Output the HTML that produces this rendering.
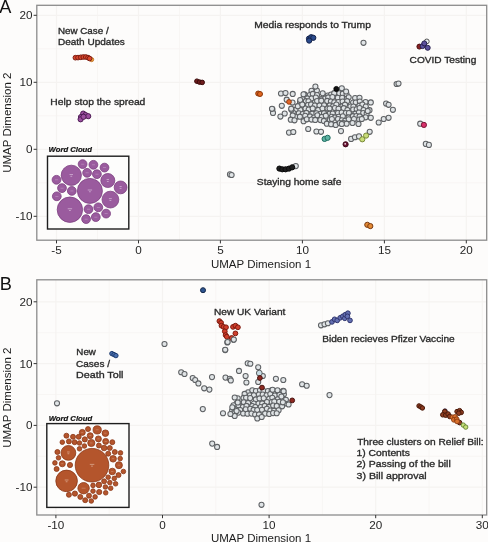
<!DOCTYPE html>
<html><head><meta charset="utf-8"><style>
html,body{margin:0;padding:0;background:#fdfcfb;}
body{width:488px;height:542px;overflow:hidden;}
svg{display:block;filter:blur(0.35px);}
text{font-family:"Liberation Sans", sans-serif;}
.tk{font-size:11.7px;fill:#262626;}
.ttl{font-size:11.5px;fill:#1c1c1c;}
.ann{font-size:9.0px;fill:#2b2b2b;stroke:#2b2b2b;stroke-width:0.32px;}
.wc{font-size:7.7px;font-weight:bold;font-style:italic;fill:#111;stroke:#111;stroke-width:0.2px;}
.pl{font-size:18.2px;fill:#111;}
</style></head><body>
<svg width="488" height="542" viewBox="0 0 488 542">
<rect width="488" height="542" fill="#fdfcfb"/>
<rect x="36.8" y="5.3" width="449.9" height="234.89999999999998" fill="#fdfcfb"/>
<line x1="97.5" y1="5.3" x2="97.5" y2="240.2" stroke="#f8f6f4" stroke-width="1.0"/>
<line x1="179.5" y1="5.3" x2="179.5" y2="240.2" stroke="#f8f6f4" stroke-width="1.0"/>
<line x1="261.4" y1="5.3" x2="261.4" y2="240.2" stroke="#f8f6f4" stroke-width="1.0"/>
<line x1="343.4" y1="5.3" x2="343.4" y2="240.2" stroke="#f8f6f4" stroke-width="1.0"/>
<line x1="425.3" y1="5.3" x2="425.3" y2="240.2" stroke="#f8f6f4" stroke-width="1.0"/>
<line x1="36.8" y1="182.8" x2="486.7" y2="182.8" stroke="#f8f6f4" stroke-width="1.0"/>
<line x1="36.8" y1="115.8" x2="486.7" y2="115.8" stroke="#f8f6f4" stroke-width="1.0"/>
<line x1="36.8" y1="48.8" x2="486.7" y2="48.8" stroke="#f8f6f4" stroke-width="1.0"/>
<line x1="56.5" y1="5.3" x2="56.5" y2="240.2" stroke="#f5f3f1" stroke-width="1.2"/>
<line x1="138.5" y1="5.3" x2="138.5" y2="240.2" stroke="#f5f3f1" stroke-width="1.2"/>
<line x1="220.4" y1="5.3" x2="220.4" y2="240.2" stroke="#f5f3f1" stroke-width="1.2"/>
<line x1="302.4" y1="5.3" x2="302.4" y2="240.2" stroke="#f5f3f1" stroke-width="1.2"/>
<line x1="384.4" y1="5.3" x2="384.4" y2="240.2" stroke="#f5f3f1" stroke-width="1.2"/>
<line x1="466.3" y1="5.3" x2="466.3" y2="240.2" stroke="#f5f3f1" stroke-width="1.2"/>
<line x1="36.8" y1="216.3" x2="486.7" y2="216.3" stroke="#f5f3f1" stroke-width="1.2"/>
<line x1="36.8" y1="149.3" x2="486.7" y2="149.3" stroke="#f5f3f1" stroke-width="1.2"/>
<line x1="36.8" y1="82.3" x2="486.7" y2="82.3" stroke="#f5f3f1" stroke-width="1.2"/>
<line x1="36.8" y1="15.3" x2="486.7" y2="15.3" stroke="#f5f3f1" stroke-width="1.2"/>
<rect x="36.8" y="279.8" width="449.9" height="235.2" fill="#fdfcfb"/>
<line x1="109.2" y1="279.8" x2="109.2" y2="515.0" stroke="#f8f6f4" stroke-width="1.0"/>
<line x1="215.8" y1="279.8" x2="215.8" y2="515.0" stroke="#f8f6f4" stroke-width="1.0"/>
<line x1="322.4" y1="279.8" x2="322.4" y2="515.0" stroke="#f8f6f4" stroke-width="1.0"/>
<line x1="429.0" y1="279.8" x2="429.0" y2="515.0" stroke="#f8f6f4" stroke-width="1.0"/>
<line x1="36.8" y1="456.3" x2="486.7" y2="456.3" stroke="#f8f6f4" stroke-width="1.0"/>
<line x1="36.8" y1="394.5" x2="486.7" y2="394.5" stroke="#f8f6f4" stroke-width="1.0"/>
<line x1="36.8" y1="332.7" x2="486.7" y2="332.7" stroke="#f8f6f4" stroke-width="1.0"/>
<line x1="55.9" y1="279.8" x2="55.9" y2="515.0" stroke="#f5f3f1" stroke-width="1.2"/>
<line x1="162.5" y1="279.8" x2="162.5" y2="515.0" stroke="#f5f3f1" stroke-width="1.2"/>
<line x1="269.1" y1="279.8" x2="269.1" y2="515.0" stroke="#f5f3f1" stroke-width="1.2"/>
<line x1="375.7" y1="279.8" x2="375.7" y2="515.0" stroke="#f5f3f1" stroke-width="1.2"/>
<line x1="482.3" y1="279.8" x2="482.3" y2="515.0" stroke="#f5f3f1" stroke-width="1.2"/>
<line x1="36.8" y1="487.2" x2="486.7" y2="487.2" stroke="#f5f3f1" stroke-width="1.2"/>
<line x1="36.8" y1="425.4" x2="486.7" y2="425.4" stroke="#f5f3f1" stroke-width="1.2"/>
<line x1="36.8" y1="363.6" x2="486.7" y2="363.6" stroke="#f5f3f1" stroke-width="1.2"/>
<line x1="36.8" y1="301.8" x2="486.7" y2="301.8" stroke="#f5f3f1" stroke-width="1.2"/>
<text x="-0.8" y="13.2" class="pl">A</text>
<text x="-0.3" y="290.3" class="pl">B</text>
<text x="261" y="267.6" text-anchor="middle" class="ttl">UMAP Dimension 1</text>
<text x="261" y="541.6" text-anchor="middle" class="ttl">UMAP Dimension 1</text>
<text transform="translate(11.2,122.7) rotate(-90)" text-anchor="middle" class="ttl">UMAP Dimension 2</text>
<text transform="translate(11.2,397.7) rotate(-90)" text-anchor="middle" class="ttl">UMAP Dimension 2</text>
<text x="57.92" y="34.00" class="ann" textLength="50.72" lengthAdjust="spacingAndGlyphs">New Case /</text>
<text x="57.92" y="45.05" class="ann" textLength="66.90" lengthAdjust="spacingAndGlyphs">Death Updates</text>
<text x="50.38" y="104.90" class="ann" textLength="94.98" lengthAdjust="spacingAndGlyphs">Help stop the spread</text>
<text x="254.20" y="27.70" class="ann" textLength="116.70" lengthAdjust="spacingAndGlyphs">Media responds to Trump</text>
<text x="409.64" y="62.80" class="ann" textLength="66.72" lengthAdjust="spacingAndGlyphs">COVID Testing</text>
<text x="256.84" y="184.80" class="ann" textLength="84.52" lengthAdjust="spacingAndGlyphs">Staying home safe</text>
<text x="48.6" y="152.4" class="wc">Word Cloud</text>
<rect x="47.5" y="156.2" width="81.30000000000001" height="72.80000000000001" fill="#fdfdfc" stroke="#1e1e1e" stroke-width="1.4"/>
<circle cx="71.3" cy="175.3" r="10.1" fill="#9a5b9e" stroke="#7c3f80" stroke-width="0.8"/>
<rect x="69.5" y="174.0" width="3.5" height="0.8" fill="#e2cbe4" opacity="0.75"/>
<rect x="70.4" y="175.8" width="1.8" height="0.8" fill="#e2cbe4" opacity="0.75"/>
<circle cx="89.9" cy="190.9" r="12.5" fill="#9a5b9e" stroke="#7c3f80" stroke-width="0.8"/>
<rect x="87.7" y="189.6" width="4.4" height="0.8" fill="#e2cbe4" opacity="0.75"/>
<rect x="89.0" y="191.4" width="1.8" height="0.8" fill="#e2cbe4" opacity="0.75"/>
<circle cx="69.9" cy="209.7" r="12.7" fill="#9a5b9e" stroke="#7c3f80" stroke-width="0.8"/>
<rect x="67.7" y="208.4" width="4.4" height="0.8" fill="#e2cbe4" opacity="0.75"/>
<rect x="69.0" y="210.2" width="1.8" height="0.8" fill="#e2cbe4" opacity="0.75"/>
<circle cx="110.4" cy="199.6" r="8.4" fill="#9a5b9e" stroke="#7c3f80" stroke-width="0.8"/>
<rect x="108.9" y="198.3" width="2.9" height="0.8" fill="#e2cbe4" opacity="0.75"/>
<rect x="109.5" y="200.1" width="1.8" height="0.8" fill="#e2cbe4" opacity="0.75"/>
<circle cx="107.8" cy="180.5" r="7.0" fill="#9a5b9e" stroke="#7c3f80" stroke-width="0.8"/>
<rect x="106.6" y="179.2" width="2.4" height="0.8" fill="#e2cbe4" opacity="0.75"/>
<rect x="106.9" y="181.0" width="1.8" height="0.8" fill="#e2cbe4" opacity="0.75"/>
<circle cx="120.6" cy="187.4" r="6.4" fill="#9a5b9e" stroke="#7c3f80" stroke-width="0.8"/>
<rect x="119.5" y="186.1" width="2.2" height="0.8" fill="#e2cbe4" opacity="0.75"/>
<rect x="119.7" y="187.9" width="1.8" height="0.8" fill="#e2cbe4" opacity="0.75"/>
<circle cx="82.6" cy="164.1" r="4.4" fill="#9a5b9e" stroke="#7c3f80" stroke-width="0.8"/>
<rect x="81.1" y="163.8" width="3.1" height="0.7" fill="#e2cbe4" opacity="0.45"/>
<circle cx="93.4" cy="164.8" r="4.4" fill="#9a5b9e" stroke="#7c3f80" stroke-width="0.8"/>
<rect x="91.9" y="164.5" width="3.1" height="0.7" fill="#e2cbe4" opacity="0.45"/>
<circle cx="104.5" cy="167.6" r="4.4" fill="#9a5b9e" stroke="#7c3f80" stroke-width="0.8"/>
<rect x="103.0" y="167.2" width="3.1" height="0.7" fill="#e2cbe4" opacity="0.45"/>
<circle cx="87.1" cy="172.8" r="4.4" fill="#9a5b9e" stroke="#7c3f80" stroke-width="0.8"/>
<rect x="85.6" y="172.5" width="3.1" height="0.7" fill="#e2cbe4" opacity="0.45"/>
<circle cx="96.9" cy="174.2" r="4.4" fill="#9a5b9e" stroke="#7c3f80" stroke-width="0.8"/>
<rect x="95.4" y="173.8" width="3.1" height="0.7" fill="#e2cbe4" opacity="0.45"/>
<circle cx="56.5" cy="179.8" r="4.4" fill="#9a5b9e" stroke="#7c3f80" stroke-width="0.8"/>
<rect x="55.0" y="179.5" width="3.1" height="0.7" fill="#e2cbe4" opacity="0.45"/>
<circle cx="62.0" cy="188.1" r="4.4" fill="#9a5b9e" stroke="#7c3f80" stroke-width="0.8"/>
<rect x="60.5" y="187.8" width="3.1" height="0.7" fill="#e2cbe4" opacity="0.45"/>
<circle cx="71.8" cy="190.9" r="4.4" fill="#9a5b9e" stroke="#7c3f80" stroke-width="0.8"/>
<rect x="70.3" y="190.6" width="3.1" height="0.7" fill="#e2cbe4" opacity="0.45"/>
<circle cx="56.8" cy="196.3" r="4.4" fill="#9a5b9e" stroke="#7c3f80" stroke-width="0.8"/>
<rect x="55.3" y="196.0" width="3.1" height="0.7" fill="#e2cbe4" opacity="0.45"/>
<circle cx="88.5" cy="209.2" r="4.4" fill="#9a5b9e" stroke="#7c3f80" stroke-width="0.8"/>
<rect x="87.0" y="208.8" width="3.1" height="0.7" fill="#e2cbe4" opacity="0.45"/>
<circle cx="98.3" cy="207.3" r="4.4" fill="#9a5b9e" stroke="#7c3f80" stroke-width="0.8"/>
<rect x="96.8" y="207.0" width="3.1" height="0.7" fill="#e2cbe4" opacity="0.45"/>
<circle cx="106.1" cy="213.6" r="4.4" fill="#9a5b9e" stroke="#7c3f80" stroke-width="0.8"/>
<rect x="104.6" y="213.2" width="3.1" height="0.7" fill="#e2cbe4" opacity="0.45"/>
<circle cx="95.8" cy="217.1" r="4.4" fill="#9a5b9e" stroke="#7c3f80" stroke-width="0.8"/>
<rect x="94.3" y="216.8" width="3.1" height="0.7" fill="#e2cbe4" opacity="0.45"/>
<circle cx="86.1" cy="219.1" r="4.4" fill="#9a5b9e" stroke="#7c3f80" stroke-width="0.8"/>
<rect x="84.6" y="218.8" width="3.1" height="0.7" fill="#e2cbe4" opacity="0.45"/>
<circle cx="91.6" cy="59.6" r="2.1" fill="#f0a83c" stroke="#b8661e" stroke-width="0.8"/>
<circle cx="75.4" cy="57.7" r="2.35" fill="#d8452c" stroke="#7d1d12" stroke-width="1.0"/>
<circle cx="78.0" cy="57.6" r="2.35" fill="#d8452c" stroke="#7d1d12" stroke-width="1.0"/>
<circle cx="80.8" cy="57.3" r="2.35" fill="#d8452c" stroke="#7d1d12" stroke-width="1.0"/>
<circle cx="83.3" cy="57.0" r="2.35" fill="#d8452c" stroke="#7d1d12" stroke-width="1.0"/>
<circle cx="85.8" cy="57.0" r="2.35" fill="#d8452c" stroke="#7d1d12" stroke-width="1.0"/>
<circle cx="88.0" cy="57.6" r="2.35" fill="#d8452c" stroke="#7d1d12" stroke-width="1.0"/>
<circle cx="89.6" cy="58.5" r="2.35" fill="#d8452c" stroke="#7d1d12" stroke-width="1.0"/>
<circle cx="196.9" cy="81.2" r="2.3" fill="#6e1c1c" stroke="#3a0a0a" stroke-width="1.0"/>
<circle cx="199.5" cy="82.1" r="2.3" fill="#6e1c1c" stroke="#3a0a0a" stroke-width="1.0"/>
<circle cx="202.2" cy="82.4" r="2.3" fill="#6e1c1c" stroke="#3a0a0a" stroke-width="1.0"/>
<circle cx="83.2" cy="113.6" r="2.6" fill="#9b4f9f" stroke="#4e1d55" stroke-width="1.0"/>
<circle cx="85.5" cy="115.0" r="2.6" fill="#9b4f9f" stroke="#4e1d55" stroke-width="1.0"/>
<circle cx="88.2" cy="116.2" r="2.6" fill="#9b4f9f" stroke="#4e1d55" stroke-width="1.0"/>
<circle cx="81.0" cy="117.0" r="2.6" fill="#9b4f9f" stroke="#4e1d55" stroke-width="1.0"/>
<circle cx="80.6" cy="119.3" r="2.6" fill="#9b4f9f" stroke="#4e1d55" stroke-width="1.0"/>
<circle cx="83.5" cy="116.8" r="2.6" fill="#9b4f9f" stroke="#4e1d55" stroke-width="1.0"/>
<circle cx="309.0" cy="38.6" r="2.6" fill="#2a4a8c" stroke="#14234a" stroke-width="1.0"/>
<circle cx="311.2" cy="37.2" r="2.6" fill="#2a4a8c" stroke="#14234a" stroke-width="1.0"/>
<circle cx="313.3" cy="37.8" r="2.6" fill="#2a4a8c" stroke="#14234a" stroke-width="1.0"/>
<circle cx="309.2" cy="40.6" r="2.6" fill="#2a4a8c" stroke="#14234a" stroke-width="1.0"/>
<circle cx="426.8" cy="41.4" r="2.4" fill="#e8ecef" stroke="#555" stroke-width="1.0"/>
<circle cx="419.4" cy="46.6" r="2.5" fill="#8a2020" stroke="#4a0e0e" stroke-width="1.0"/>
<circle cx="422.6" cy="46.1" r="2.5" fill="#5b4f9c" stroke="#262050" stroke-width="1.0"/>
<circle cx="424.3" cy="43.4" r="2.5" fill="#5b4f9c" stroke="#262050" stroke-width="1.0"/>
<circle cx="427.7" cy="47.8" r="2.5" fill="#5b4f9c" stroke="#262050" stroke-width="1.0"/>
<circle cx="311.5" cy="90.8" r="2.55" fill="#e0e4e6" stroke="#5e6164" stroke-width="1.05"/>
<circle cx="316.9" cy="90.6" r="2.55" fill="#e0e4e6" stroke="#5e6164" stroke-width="1.05"/>
<circle cx="341.4" cy="90.9" r="2.55" fill="#e0e4e6" stroke="#5e6164" stroke-width="1.05"/>
<circle cx="304.5" cy="94.4" r="2.55" fill="#e0e4e6" stroke="#5e6164" stroke-width="1.05"/>
<circle cx="309.8" cy="95.1" r="2.55" fill="#e0e4e6" stroke="#5e6164" stroke-width="1.05"/>
<circle cx="312.8" cy="93.9" r="2.55" fill="#e0e4e6" stroke="#5e6164" stroke-width="1.05"/>
<circle cx="317.0" cy="95.1" r="2.55" fill="#e0e4e6" stroke="#5e6164" stroke-width="1.05"/>
<circle cx="322.7" cy="93.3" r="2.55" fill="#e0e4e6" stroke="#5e6164" stroke-width="1.05"/>
<circle cx="327.7" cy="95.5" r="2.55" fill="#e0e4e6" stroke="#5e6164" stroke-width="1.05"/>
<circle cx="331.1" cy="94.6" r="2.55" fill="#e0e4e6" stroke="#5e6164" stroke-width="1.05"/>
<circle cx="334.2" cy="93.2" r="2.55" fill="#e0e4e6" stroke="#5e6164" stroke-width="1.05"/>
<circle cx="339.3" cy="93.3" r="2.55" fill="#e0e4e6" stroke="#5e6164" stroke-width="1.05"/>
<circle cx="342.8" cy="93.7" r="2.55" fill="#e0e4e6" stroke="#5e6164" stroke-width="1.05"/>
<circle cx="346.6" cy="94.3" r="2.55" fill="#e0e4e6" stroke="#5e6164" stroke-width="1.05"/>
<circle cx="303.0" cy="98.9" r="2.55" fill="#e0e4e6" stroke="#5e6164" stroke-width="1.05"/>
<circle cx="307.4" cy="98.4" r="2.55" fill="#e0e4e6" stroke="#5e6164" stroke-width="1.05"/>
<circle cx="311.6" cy="98.4" r="2.55" fill="#e0e4e6" stroke="#5e6164" stroke-width="1.05"/>
<circle cx="315.8" cy="97.5" r="2.55" fill="#e0e4e6" stroke="#5e6164" stroke-width="1.05"/>
<circle cx="321.3" cy="99.2" r="2.55" fill="#e0e4e6" stroke="#5e6164" stroke-width="1.05"/>
<circle cx="325.2" cy="98.5" r="2.55" fill="#e0e4e6" stroke="#5e6164" stroke-width="1.05"/>
<circle cx="328.2" cy="97.4" r="2.55" fill="#e0e4e6" stroke="#5e6164" stroke-width="1.05"/>
<circle cx="332.4" cy="97.0" r="2.55" fill="#e0e4e6" stroke="#5e6164" stroke-width="1.05"/>
<circle cx="337.8" cy="97.8" r="2.55" fill="#e0e4e6" stroke="#5e6164" stroke-width="1.05"/>
<circle cx="342.2" cy="97.8" r="2.55" fill="#e0e4e6" stroke="#5e6164" stroke-width="1.05"/>
<circle cx="346.7" cy="98.9" r="2.55" fill="#e0e4e6" stroke="#5e6164" stroke-width="1.05"/>
<circle cx="348.7" cy="97.3" r="2.55" fill="#e0e4e6" stroke="#5e6164" stroke-width="1.05"/>
<circle cx="355.1" cy="98.0" r="2.55" fill="#e0e4e6" stroke="#5e6164" stroke-width="1.05"/>
<circle cx="359.5" cy="97.8" r="2.55" fill="#e0e4e6" stroke="#5e6164" stroke-width="1.05"/>
<circle cx="300.0" cy="102.0" r="2.55" fill="#e0e4e6" stroke="#5e6164" stroke-width="1.05"/>
<circle cx="305.9" cy="101.2" r="2.55" fill="#e0e4e6" stroke="#5e6164" stroke-width="1.05"/>
<circle cx="308.5" cy="101.3" r="2.55" fill="#e0e4e6" stroke="#5e6164" stroke-width="1.05"/>
<circle cx="314.9" cy="102.3" r="2.55" fill="#e0e4e6" stroke="#5e6164" stroke-width="1.05"/>
<circle cx="317.1" cy="101.1" r="2.55" fill="#e0e4e6" stroke="#5e6164" stroke-width="1.05"/>
<circle cx="321.3" cy="100.7" r="2.55" fill="#e0e4e6" stroke="#5e6164" stroke-width="1.05"/>
<circle cx="327.2" cy="100.9" r="2.55" fill="#e0e4e6" stroke="#5e6164" stroke-width="1.05"/>
<circle cx="330.9" cy="101.6" r="2.55" fill="#e0e4e6" stroke="#5e6164" stroke-width="1.05"/>
<circle cx="334.3" cy="102.3" r="2.55" fill="#e0e4e6" stroke="#5e6164" stroke-width="1.05"/>
<circle cx="338.4" cy="102.1" r="2.55" fill="#e0e4e6" stroke="#5e6164" stroke-width="1.05"/>
<circle cx="342.6" cy="101.5" r="2.55" fill="#e0e4e6" stroke="#5e6164" stroke-width="1.05"/>
<circle cx="347.1" cy="101.2" r="2.55" fill="#e0e4e6" stroke="#5e6164" stroke-width="1.05"/>
<circle cx="353.1" cy="102.5" r="2.55" fill="#e0e4e6" stroke="#5e6164" stroke-width="1.05"/>
<circle cx="355.8" cy="102.6" r="2.55" fill="#e0e4e6" stroke="#5e6164" stroke-width="1.05"/>
<circle cx="359.8" cy="101.5" r="2.55" fill="#e0e4e6" stroke="#5e6164" stroke-width="1.05"/>
<circle cx="365.6" cy="102.1" r="2.55" fill="#e0e4e6" stroke="#5e6164" stroke-width="1.05"/>
<circle cx="297.9" cy="106.6" r="2.55" fill="#e0e4e6" stroke="#5e6164" stroke-width="1.05"/>
<circle cx="302.4" cy="104.8" r="2.55" fill="#e0e4e6" stroke="#5e6164" stroke-width="1.05"/>
<circle cx="308.0" cy="105.0" r="2.55" fill="#e0e4e6" stroke="#5e6164" stroke-width="1.05"/>
<circle cx="311.1" cy="104.4" r="2.55" fill="#e0e4e6" stroke="#5e6164" stroke-width="1.05"/>
<circle cx="314.9" cy="105.6" r="2.55" fill="#e0e4e6" stroke="#5e6164" stroke-width="1.05"/>
<circle cx="319.5" cy="105.6" r="2.55" fill="#e0e4e6" stroke="#5e6164" stroke-width="1.05"/>
<circle cx="324.1" cy="105.3" r="2.55" fill="#e0e4e6" stroke="#5e6164" stroke-width="1.05"/>
<circle cx="329.7" cy="105.4" r="2.55" fill="#e0e4e6" stroke="#5e6164" stroke-width="1.05"/>
<circle cx="333.1" cy="106.3" r="2.55" fill="#e0e4e6" stroke="#5e6164" stroke-width="1.05"/>
<circle cx="336.4" cy="104.6" r="2.55" fill="#e0e4e6" stroke="#5e6164" stroke-width="1.05"/>
<circle cx="342.4" cy="106.2" r="2.55" fill="#e0e4e6" stroke="#5e6164" stroke-width="1.05"/>
<circle cx="345.0" cy="104.7" r="2.55" fill="#e0e4e6" stroke="#5e6164" stroke-width="1.05"/>
<circle cx="350.4" cy="106.5" r="2.55" fill="#e0e4e6" stroke="#5e6164" stroke-width="1.05"/>
<circle cx="353.4" cy="106.5" r="2.55" fill="#e0e4e6" stroke="#5e6164" stroke-width="1.05"/>
<circle cx="359.3" cy="105.7" r="2.55" fill="#e0e4e6" stroke="#5e6164" stroke-width="1.05"/>
<circle cx="362.4" cy="104.5" r="2.55" fill="#e0e4e6" stroke="#5e6164" stroke-width="1.05"/>
<circle cx="365.8" cy="106.5" r="2.55" fill="#e0e4e6" stroke="#5e6164" stroke-width="1.05"/>
<circle cx="296.1" cy="109.6" r="2.55" fill="#e0e4e6" stroke="#5e6164" stroke-width="1.05"/>
<circle cx="300.4" cy="109.9" r="2.55" fill="#e0e4e6" stroke="#5e6164" stroke-width="1.05"/>
<circle cx="305.5" cy="108.6" r="2.55" fill="#e0e4e6" stroke="#5e6164" stroke-width="1.05"/>
<circle cx="308.7" cy="109.6" r="2.55" fill="#e0e4e6" stroke="#5e6164" stroke-width="1.05"/>
<circle cx="312.7" cy="108.4" r="2.55" fill="#e0e4e6" stroke="#5e6164" stroke-width="1.05"/>
<circle cx="318.1" cy="109.9" r="2.55" fill="#e0e4e6" stroke="#5e6164" stroke-width="1.05"/>
<circle cx="322.5" cy="108.6" r="2.55" fill="#e0e4e6" stroke="#5e6164" stroke-width="1.05"/>
<circle cx="327.5" cy="108.4" r="2.55" fill="#e0e4e6" stroke="#5e6164" stroke-width="1.05"/>
<circle cx="329.6" cy="108.5" r="2.55" fill="#e0e4e6" stroke="#5e6164" stroke-width="1.05"/>
<circle cx="334.9" cy="108.0" r="2.55" fill="#e0e4e6" stroke="#5e6164" stroke-width="1.05"/>
<circle cx="338.5" cy="108.8" r="2.55" fill="#e0e4e6" stroke="#5e6164" stroke-width="1.05"/>
<circle cx="343.7" cy="108.2" r="2.55" fill="#e0e4e6" stroke="#5e6164" stroke-width="1.05"/>
<circle cx="347.4" cy="110.0" r="2.55" fill="#e0e4e6" stroke="#5e6164" stroke-width="1.05"/>
<circle cx="353.2" cy="109.5" r="2.55" fill="#e0e4e6" stroke="#5e6164" stroke-width="1.05"/>
<circle cx="356.7" cy="109.3" r="2.55" fill="#e0e4e6" stroke="#5e6164" stroke-width="1.05"/>
<circle cx="359.6" cy="108.0" r="2.55" fill="#e0e4e6" stroke="#5e6164" stroke-width="1.05"/>
<circle cx="363.6" cy="110.1" r="2.55" fill="#e0e4e6" stroke="#5e6164" stroke-width="1.05"/>
<circle cx="369.5" cy="110.2" r="2.55" fill="#e0e4e6" stroke="#5e6164" stroke-width="1.05"/>
<circle cx="293.5" cy="113.1" r="2.55" fill="#e0e4e6" stroke="#5e6164" stroke-width="1.05"/>
<circle cx="298.8" cy="113.3" r="2.55" fill="#e0e4e6" stroke="#5e6164" stroke-width="1.05"/>
<circle cx="302.7" cy="114.0" r="2.55" fill="#e0e4e6" stroke="#5e6164" stroke-width="1.05"/>
<circle cx="306.4" cy="112.9" r="2.55" fill="#e0e4e6" stroke="#5e6164" stroke-width="1.05"/>
<circle cx="312.2" cy="113.7" r="2.55" fill="#e0e4e6" stroke="#5e6164" stroke-width="1.05"/>
<circle cx="316.4" cy="113.3" r="2.55" fill="#e0e4e6" stroke="#5e6164" stroke-width="1.05"/>
<circle cx="320.8" cy="113.8" r="2.55" fill="#e0e4e6" stroke="#5e6164" stroke-width="1.05"/>
<circle cx="324.0" cy="113.2" r="2.55" fill="#e0e4e6" stroke="#5e6164" stroke-width="1.05"/>
<circle cx="329.6" cy="113.7" r="2.55" fill="#e0e4e6" stroke="#5e6164" stroke-width="1.05"/>
<circle cx="332.7" cy="113.5" r="2.55" fill="#e0e4e6" stroke="#5e6164" stroke-width="1.05"/>
<circle cx="338.0" cy="112.9" r="2.55" fill="#e0e4e6" stroke="#5e6164" stroke-width="1.05"/>
<circle cx="341.7" cy="112.5" r="2.55" fill="#e0e4e6" stroke="#5e6164" stroke-width="1.05"/>
<circle cx="345.8" cy="113.0" r="2.55" fill="#e0e4e6" stroke="#5e6164" stroke-width="1.05"/>
<circle cx="348.9" cy="113.1" r="2.55" fill="#e0e4e6" stroke="#5e6164" stroke-width="1.05"/>
<circle cx="355.3" cy="113.7" r="2.55" fill="#e0e4e6" stroke="#5e6164" stroke-width="1.05"/>
<circle cx="358.9" cy="112.5" r="2.55" fill="#e0e4e6" stroke="#5e6164" stroke-width="1.05"/>
<circle cx="363.2" cy="113.0" r="2.55" fill="#e0e4e6" stroke="#5e6164" stroke-width="1.05"/>
<circle cx="366.7" cy="113.6" r="2.55" fill="#e0e4e6" stroke="#5e6164" stroke-width="1.05"/>
<circle cx="295.8" cy="117.0" r="2.55" fill="#e0e4e6" stroke="#5e6164" stroke-width="1.05"/>
<circle cx="299.9" cy="116.7" r="2.55" fill="#e0e4e6" stroke="#5e6164" stroke-width="1.05"/>
<circle cx="305.2" cy="115.8" r="2.55" fill="#e0e4e6" stroke="#5e6164" stroke-width="1.05"/>
<circle cx="310.0" cy="116.4" r="2.55" fill="#e0e4e6" stroke="#5e6164" stroke-width="1.05"/>
<circle cx="314.0" cy="117.5" r="2.55" fill="#e0e4e6" stroke="#5e6164" stroke-width="1.05"/>
<circle cx="317.4" cy="115.3" r="2.55" fill="#e0e4e6" stroke="#5e6164" stroke-width="1.05"/>
<circle cx="321.8" cy="116.9" r="2.55" fill="#e0e4e6" stroke="#5e6164" stroke-width="1.05"/>
<circle cx="325.8" cy="115.7" r="2.55" fill="#e0e4e6" stroke="#5e6164" stroke-width="1.05"/>
<circle cx="331.7" cy="116.8" r="2.55" fill="#e0e4e6" stroke="#5e6164" stroke-width="1.05"/>
<circle cx="334.9" cy="117.4" r="2.55" fill="#e0e4e6" stroke="#5e6164" stroke-width="1.05"/>
<circle cx="338.8" cy="116.8" r="2.55" fill="#e0e4e6" stroke="#5e6164" stroke-width="1.05"/>
<circle cx="342.8" cy="116.3" r="2.55" fill="#e0e4e6" stroke="#5e6164" stroke-width="1.05"/>
<circle cx="348.5" cy="117.4" r="2.55" fill="#e0e4e6" stroke="#5e6164" stroke-width="1.05"/>
<circle cx="352.9" cy="116.2" r="2.55" fill="#e0e4e6" stroke="#5e6164" stroke-width="1.05"/>
<circle cx="356.4" cy="116.0" r="2.55" fill="#e0e4e6" stroke="#5e6164" stroke-width="1.05"/>
<circle cx="359.6" cy="116.4" r="2.55" fill="#e0e4e6" stroke="#5e6164" stroke-width="1.05"/>
<circle cx="365.6" cy="117.3" r="2.55" fill="#e0e4e6" stroke="#5e6164" stroke-width="1.05"/>
<circle cx="303.6" cy="121.2" r="2.55" fill="#e0e4e6" stroke="#5e6164" stroke-width="1.05"/>
<circle cx="306.8" cy="119.3" r="2.55" fill="#e0e4e6" stroke="#5e6164" stroke-width="1.05"/>
<circle cx="311.5" cy="119.6" r="2.55" fill="#e0e4e6" stroke="#5e6164" stroke-width="1.05"/>
<circle cx="315.2" cy="119.9" r="2.55" fill="#e0e4e6" stroke="#5e6164" stroke-width="1.05"/>
<circle cx="320.4" cy="120.1" r="2.55" fill="#e0e4e6" stroke="#5e6164" stroke-width="1.05"/>
<circle cx="323.9" cy="120.9" r="2.55" fill="#e0e4e6" stroke="#5e6164" stroke-width="1.05"/>
<circle cx="329.8" cy="120.0" r="2.55" fill="#e0e4e6" stroke="#5e6164" stroke-width="1.05"/>
<circle cx="331.9" cy="119.0" r="2.55" fill="#e0e4e6" stroke="#5e6164" stroke-width="1.05"/>
<circle cx="338.0" cy="119.0" r="2.55" fill="#e0e4e6" stroke="#5e6164" stroke-width="1.05"/>
<circle cx="341.9" cy="120.3" r="2.55" fill="#e0e4e6" stroke="#5e6164" stroke-width="1.05"/>
<circle cx="345.2" cy="120.8" r="2.55" fill="#e0e4e6" stroke="#5e6164" stroke-width="1.05"/>
<circle cx="348.7" cy="119.3" r="2.55" fill="#e0e4e6" stroke="#5e6164" stroke-width="1.05"/>
<circle cx="354.0" cy="119.0" r="2.55" fill="#e0e4e6" stroke="#5e6164" stroke-width="1.05"/>
<circle cx="359.2" cy="119.5" r="2.55" fill="#e0e4e6" stroke="#5e6164" stroke-width="1.05"/>
<circle cx="361.8" cy="119.0" r="2.55" fill="#e0e4e6" stroke="#5e6164" stroke-width="1.05"/>
<circle cx="326.8" cy="123.7" r="2.55" fill="#e0e4e6" stroke="#5e6164" stroke-width="1.05"/>
<circle cx="331.1" cy="124.2" r="2.55" fill="#e0e4e6" stroke="#5e6164" stroke-width="1.05"/>
<circle cx="335.7" cy="124.9" r="2.55" fill="#e0e4e6" stroke="#5e6164" stroke-width="1.05"/>
<circle cx="339.7" cy="123.1" r="2.55" fill="#e0e4e6" stroke="#5e6164" stroke-width="1.05"/>
<circle cx="343.4" cy="123.0" r="2.55" fill="#e0e4e6" stroke="#5e6164" stroke-width="1.05"/>
<circle cx="346.6" cy="123.7" r="2.55" fill="#e0e4e6" stroke="#5e6164" stroke-width="1.05"/>
<circle cx="352.5" cy="123.0" r="2.55" fill="#e0e4e6" stroke="#5e6164" stroke-width="1.05"/>
<circle cx="281.0" cy="93.5" r="2.55" fill="#e0e4e6" stroke="#5e6164" stroke-width="1.05"/>
<circle cx="285.5" cy="93.1" r="2.55" fill="#e0e4e6" stroke="#5e6164" stroke-width="1.05"/>
<circle cx="292.7" cy="93.9" r="2.55" fill="#e0e4e6" stroke="#5e6164" stroke-width="1.05"/>
<circle cx="303.5" cy="94.3" r="2.55" fill="#e0e4e6" stroke="#5e6164" stroke-width="1.05"/>
<circle cx="286.7" cy="99.7" r="2.55" fill="#e0e4e6" stroke="#5e6164" stroke-width="1.05"/>
<circle cx="292.5" cy="102.6" r="2.55" fill="#e0e4e6" stroke="#5e6164" stroke-width="1.05"/>
<circle cx="281.8" cy="105.8" r="2.55" fill="#e0e4e6" stroke="#5e6164" stroke-width="1.05"/>
<circle cx="272.4" cy="109.2" r="2.55" fill="#e0e4e6" stroke="#5e6164" stroke-width="1.05"/>
<circle cx="273.0" cy="112.9" r="2.55" fill="#e0e4e6" stroke="#5e6164" stroke-width="1.05"/>
<circle cx="280.4" cy="116.6" r="2.55" fill="#e0e4e6" stroke="#5e6164" stroke-width="1.05"/>
<circle cx="284.7" cy="113.5" r="2.55" fill="#e0e4e6" stroke="#5e6164" stroke-width="1.05"/>
<circle cx="291.4" cy="109.8" r="2.55" fill="#e0e4e6" stroke="#5e6164" stroke-width="1.05"/>
<circle cx="292.7" cy="115.4" r="2.55" fill="#e0e4e6" stroke="#5e6164" stroke-width="1.05"/>
<circle cx="290.8" cy="119.7" r="2.55" fill="#e0e4e6" stroke="#5e6164" stroke-width="1.05"/>
<circle cx="294.5" cy="120.3" r="2.55" fill="#e0e4e6" stroke="#5e6164" stroke-width="1.05"/>
<circle cx="289.0" cy="132.6" r="2.55" fill="#e0e4e6" stroke="#5e6164" stroke-width="1.05"/>
<circle cx="293.3" cy="132.0" r="2.55" fill="#e0e4e6" stroke="#5e6164" stroke-width="1.05"/>
<circle cx="308.2" cy="129.0" r="2.55" fill="#e0e4e6" stroke="#5e6164" stroke-width="1.05"/>
<circle cx="316.4" cy="131.5" r="2.55" fill="#e0e4e6" stroke="#5e6164" stroke-width="1.05"/>
<circle cx="321.0" cy="131.8" r="2.55" fill="#e0e4e6" stroke="#5e6164" stroke-width="1.05"/>
<circle cx="341.0" cy="131.1" r="2.55" fill="#e0e4e6" stroke="#5e6164" stroke-width="1.05"/>
<circle cx="351.1" cy="138.9" r="2.55" fill="#e0e4e6" stroke="#5e6164" stroke-width="1.05"/>
<circle cx="354.9" cy="137.2" r="2.55" fill="#e0e4e6" stroke="#5e6164" stroke-width="1.05"/>
<circle cx="359.0" cy="136.4" r="2.55" fill="#e0e4e6" stroke="#5e6164" stroke-width="1.05"/>
<circle cx="369.7" cy="131.8" r="2.55" fill="#e0e4e6" stroke="#5e6164" stroke-width="1.05"/>
<circle cx="378.7" cy="122.5" r="2.55" fill="#e0e4e6" stroke="#5e6164" stroke-width="1.05"/>
<circle cx="383.7" cy="119.0" r="2.55" fill="#e0e4e6" stroke="#5e6164" stroke-width="1.05"/>
<circle cx="388.6" cy="117.8" r="2.55" fill="#e0e4e6" stroke="#5e6164" stroke-width="1.05"/>
<circle cx="386.1" cy="103.6" r="2.55" fill="#e0e4e6" stroke="#5e6164" stroke-width="1.05"/>
<circle cx="388.6" cy="104.8" r="2.55" fill="#e0e4e6" stroke="#5e6164" stroke-width="1.05"/>
<circle cx="392.9" cy="109.8" r="2.55" fill="#e0e4e6" stroke="#5e6164" stroke-width="1.05"/>
<circle cx="370.8" cy="102.4" r="2.55" fill="#e0e4e6" stroke="#5e6164" stroke-width="1.05"/>
<circle cx="367.7" cy="111.0" r="2.55" fill="#e0e4e6" stroke="#5e6164" stroke-width="1.05"/>
<circle cx="370.8" cy="117.8" r="2.55" fill="#e0e4e6" stroke="#5e6164" stroke-width="1.05"/>
<circle cx="358.5" cy="123.9" r="2.55" fill="#e0e4e6" stroke="#5e6164" stroke-width="1.05"/>
<circle cx="341.8" cy="123.9" r="2.55" fill="#e0e4e6" stroke="#5e6164" stroke-width="1.05"/>
<circle cx="315.4" cy="86.6" r="2.55" fill="#e0e4e6" stroke="#5e6164" stroke-width="1.05"/>
<circle cx="341.8" cy="88.3" r="2.55" fill="#e0e4e6" stroke="#5e6164" stroke-width="1.05"/>
<circle cx="346.1" cy="91.5" r="2.55" fill="#e0e4e6" stroke="#5e6164" stroke-width="1.05"/>
<circle cx="396.6" cy="84.0" r="2.55" fill="#e0e4e6" stroke="#5e6164" stroke-width="1.05"/>
<circle cx="398.5" cy="83.6" r="2.55" fill="#e0e4e6" stroke="#5e6164" stroke-width="1.05"/>
<circle cx="420.2" cy="123.7" r="2.55" fill="#e0e4e6" stroke="#5e6164" stroke-width="1.05"/>
<circle cx="425.8" cy="143.9" r="2.55" fill="#e0e4e6" stroke="#5e6164" stroke-width="1.05"/>
<circle cx="428.9" cy="144.9" r="2.55" fill="#e0e4e6" stroke="#5e6164" stroke-width="1.05"/>
<circle cx="363.5" cy="42.8" r="2.55" fill="#e0e4e6" stroke="#5e6164" stroke-width="1.05"/>
<circle cx="230.0" cy="174.4" r="2.55" fill="#e0e4e6" stroke="#5e6164" stroke-width="1.05"/>
<circle cx="231.6" cy="175.0" r="2.55" fill="#e0e4e6" stroke="#5e6164" stroke-width="1.05"/>
<circle cx="295.8" cy="166.1" r="2.55" fill="#e0e4e6" stroke="#5e6164" stroke-width="1.05"/>
<circle cx="272.0" cy="108.8" r="2.55" fill="#e0e4e6" stroke="#5e6164" stroke-width="1.05"/>
<circle cx="300.2" cy="100.1" r="2.55" fill="#e0e4e6" stroke="#5e6164" stroke-width="1.05"/>
<circle cx="297.8" cy="106.2" r="2.55" fill="#e0e4e6" stroke="#5e6164" stroke-width="1.05"/>
<circle cx="302.3" cy="104.6" r="2.55" fill="#e0e4e6" stroke="#5e6164" stroke-width="1.05"/>
<circle cx="291.2" cy="108.7" r="2.55" fill="#e0e4e6" stroke="#5e6164" stroke-width="1.05"/>
<circle cx="258.2" cy="93.5" r="2.5" fill="#e0661f" stroke="#8a3508" stroke-width="1.0"/>
<circle cx="260.0" cy="94.0" r="2.5" fill="#e0661f" stroke="#8a3508" stroke-width="1.0"/>
<circle cx="289.0" cy="101.9" r="2.4" fill="#e2672a" stroke="#8a3508" stroke-width="0.9"/>
<circle cx="336.3" cy="88.9" r="2.5" fill="#111" stroke="#000" stroke-width="0.8"/>
<circle cx="324.6" cy="138.9" r="2.6" fill="#5db3a3" stroke="#1e6a5e" stroke-width="1.0"/>
<circle cx="327.6" cy="137.8" r="2.6" fill="#5db3a3" stroke="#1e6a5e" stroke-width="1.0"/>
<circle cx="345.6" cy="144.3" r="2.6" fill="#6a1030" stroke="#3a0818" stroke-width="1.0"/>
<circle cx="345.2" cy="143.8" r="0.9" fill="#f0e0e8" stroke="none" stroke-width="0"/>
<circle cx="362.3" cy="139.3" r="2.6" fill="#c8dc78" stroke="#7a8a3a" stroke-width="1.0"/>
<circle cx="366.1" cy="135.6" r="2.6" fill="#c8dc78" stroke="#7a8a3a" stroke-width="1.0"/>
<circle cx="423.9" cy="124.9" r="2.6" fill="#d8306a" stroke="#7a1838" stroke-width="1.0"/>
<circle cx="367.3" cy="224.8" r="2.6" fill="#e38a35" stroke="#7a3a10" stroke-width="1.0"/>
<circle cx="370.3" cy="226.1" r="2.6" fill="#e38a35" stroke="#7a3a10" stroke-width="1.0"/>
<circle cx="279.4" cy="168.6" r="2.6" fill="#1e1e1e" stroke="#0a0a0a" stroke-width="1.0"/>
<circle cx="282.3" cy="169.3" r="2.6" fill="#1e1e1e" stroke="#0a0a0a" stroke-width="1.0"/>
<circle cx="285.6" cy="169.3" r="2.6" fill="#1e1e1e" stroke="#0a0a0a" stroke-width="1.0"/>
<circle cx="289.0" cy="168.6" r="2.6" fill="#1e1e1e" stroke="#0a0a0a" stroke-width="1.0"/>
<circle cx="292.2" cy="167.3" r="2.6" fill="#1e1e1e" stroke="#0a0a0a" stroke-width="1.0"/>
<text x="76.38" y="355.30" class="ann" textLength="19.52" lengthAdjust="spacingAndGlyphs">New</text>
<text x="76.02" y="367.00" class="ann" textLength="33.98" lengthAdjust="spacingAndGlyphs">Cases /</text>
<text x="76.02" y="378.20" class="ann" textLength="47.42" lengthAdjust="spacingAndGlyphs">Death Toll</text>
<text x="213.92" y="314.80" class="ann" textLength="71.44" lengthAdjust="spacingAndGlyphs">New UK Variant</text>
<text x="322.28" y="341.80" class="ann" textLength="132.34" lengthAdjust="spacingAndGlyphs">Biden recieves Pfizer Vaccine</text>
<text x="357.18" y="444.90" class="ann" textLength="126.44" lengthAdjust="spacingAndGlyphs">Three clusters on Relief Bill:</text>
<text x="356.56" y="456.20" class="ann" textLength="53.34" lengthAdjust="spacingAndGlyphs">1) Contents</text>
<text x="356.56" y="467.40" class="ann" textLength="94.16" lengthAdjust="spacingAndGlyphs">2) Passing of the bill</text>
<text x="356.56" y="478.60" class="ann" textLength="70.16" lengthAdjust="spacingAndGlyphs">3) Bill approval</text>
<text x="48.7" y="420.5" class="wc">Word Cloud</text>
<rect x="46.8" y="423.6" width="82.2" height="83.79999999999995" fill="#fdfdfc" stroke="#1e1e1e" stroke-width="1.4"/>
<circle cx="92" cy="465.2" r="16.8" fill="#b4552c" stroke="#8a3716" stroke-width="0.8"/>
<rect x="89.8" y="463.9" width="4.5" height="0.8" fill="#e8c4b0" opacity="0.75"/>
<rect x="91.1" y="465.7" width="1.8" height="0.8" fill="#e8c4b0" opacity="0.75"/>
<circle cx="68.4" cy="452.9" r="7.4" fill="#b4552c" stroke="#8a3716" stroke-width="0.8"/>
<rect x="67.1" y="451.6" width="2.6" height="0.8" fill="#e8c4b0" opacity="0.75"/>
<rect x="67.5" y="453.4" width="1.8" height="0.8" fill="#e8c4b0" opacity="0.75"/>
<circle cx="66.6" cy="480.9" r="10.8" fill="#b4552c" stroke="#8a3716" stroke-width="0.8"/>
<rect x="64.7" y="479.6" width="3.8" height="0.8" fill="#e8c4b0" opacity="0.75"/>
<rect x="65.7" y="481.4" width="1.8" height="0.8" fill="#e8c4b0" opacity="0.75"/>
<circle cx="83.6" cy="488.2" r="5.7" fill="#b4552c" stroke="#8a3716" stroke-width="0.8"/>
<rect x="81.6" y="487.8" width="4.0" height="0.7" fill="#e8c4b0" opacity="0.45"/>
<circle cx="97.2" cy="429.9" r="4.1" fill="#b4552c" stroke="#8a3716" stroke-width="0.8"/>
<rect x="95.8" y="429.5" width="2.9" height="0.7" fill="#e8c4b0" opacity="0.45"/>
<circle cx="88" cy="429.1" r="2.5" fill="#b4552c" stroke="#8a3716" stroke-width="0.8"/>
<circle cx="82.3" cy="432.4" r="3.0" fill="#b4552c" stroke="#8a3716" stroke-width="0.8"/>
<rect x="81.2" y="432.0" width="2.1" height="0.7" fill="#e8c4b0" opacity="0.45"/>
<circle cx="105.4" cy="433.2" r="3.3" fill="#b4552c" stroke="#8a3716" stroke-width="0.8"/>
<rect x="104.2" y="432.8" width="2.3" height="0.7" fill="#e8c4b0" opacity="0.45"/>
<circle cx="66.4" cy="435.7" r="2.5" fill="#b4552c" stroke="#8a3716" stroke-width="0.8"/>
<circle cx="73" cy="436.8" r="2.5" fill="#b4552c" stroke="#8a3716" stroke-width="0.8"/>
<circle cx="78.7" cy="436.8" r="2.5" fill="#b4552c" stroke="#8a3716" stroke-width="0.8"/>
<circle cx="90.2" cy="435.7" r="3.0" fill="#b4552c" stroke="#8a3716" stroke-width="0.8"/>
<rect x="89.2" y="435.3" width="2.1" height="0.7" fill="#e8c4b0" opacity="0.45"/>
<circle cx="84.8" cy="439.4" r="2.6" fill="#b4552c" stroke="#8a3716" stroke-width="0.8"/>
<circle cx="98.4" cy="438.9" r="3.0" fill="#b4552c" stroke="#8a3716" stroke-width="0.8"/>
<rect x="97.4" y="438.5" width="2.1" height="0.7" fill="#e8c4b0" opacity="0.45"/>
<circle cx="105.7" cy="441.4" r="3.0" fill="#b4552c" stroke="#8a3716" stroke-width="0.8"/>
<rect x="104.7" y="441.0" width="2.1" height="0.7" fill="#e8c4b0" opacity="0.45"/>
<circle cx="112.3" cy="442.2" r="2.5" fill="#b4552c" stroke="#8a3716" stroke-width="0.8"/>
<circle cx="62.3" cy="442.2" r="2.3" fill="#b4552c" stroke="#8a3716" stroke-width="0.8"/>
<circle cx="68.9" cy="441.4" r="2.5" fill="#b4552c" stroke="#8a3716" stroke-width="0.8"/>
<circle cx="74.6" cy="442.2" r="2.5" fill="#b4552c" stroke="#8a3716" stroke-width="0.8"/>
<circle cx="79.5" cy="443" r="2.3" fill="#b4552c" stroke="#8a3716" stroke-width="0.8"/>
<circle cx="91.3" cy="443" r="3.6" fill="#b4552c" stroke="#8a3716" stroke-width="0.8"/>
<rect x="90.0" y="442.6" width="2.5" height="0.7" fill="#e8c4b0" opacity="0.45"/>
<circle cx="84.4" cy="446" r="2.3" fill="#b4552c" stroke="#8a3716" stroke-width="0.8"/>
<circle cx="98.9" cy="445.5" r="2.5" fill="#b4552c" stroke="#8a3716" stroke-width="0.8"/>
<circle cx="104.1" cy="448" r="2.8" fill="#b4552c" stroke="#8a3716" stroke-width="0.8"/>
<circle cx="109.8" cy="448" r="2.5" fill="#b4552c" stroke="#8a3716" stroke-width="0.8"/>
<circle cx="79.5" cy="448.8" r="2.3" fill="#b4552c" stroke="#8a3716" stroke-width="0.8"/>
<circle cx="57.4" cy="452" r="2.5" fill="#b4552c" stroke="#8a3716" stroke-width="0.8"/>
<circle cx="114.8" cy="452" r="2.5" fill="#b4552c" stroke="#8a3716" stroke-width="0.8"/>
<circle cx="120.5" cy="452.9" r="2.3" fill="#b4552c" stroke="#8a3716" stroke-width="0.8"/>
<circle cx="108.2" cy="453.7" r="2.5" fill="#b4552c" stroke="#8a3716" stroke-width="0.8"/>
<circle cx="58.5" cy="457.8" r="2.3" fill="#b4552c" stroke="#8a3716" stroke-width="0.8"/>
<circle cx="113.1" cy="458.8" r="3.3" fill="#b4552c" stroke="#8a3716" stroke-width="0.8"/>
<rect x="111.9" y="458.4" width="2.3" height="0.7" fill="#e8c4b0" opacity="0.45"/>
<circle cx="120.2" cy="458.6" r="2.3" fill="#b4552c" stroke="#8a3716" stroke-width="0.8"/>
<circle cx="54.9" cy="462.9" r="2.3" fill="#b4552c" stroke="#8a3716" stroke-width="0.8"/>
<circle cx="62.3" cy="463.8" r="3.0" fill="#b4552c" stroke="#8a3716" stroke-width="0.8"/>
<rect x="61.2" y="463.4" width="2.1" height="0.7" fill="#e8c4b0" opacity="0.45"/>
<circle cx="70.0" cy="465.0" r="2.6" fill="#b4552c" stroke="#8a3716" stroke-width="0.8"/>
<circle cx="56.6" cy="469" r="2.5" fill="#b4552c" stroke="#8a3716" stroke-width="0.8"/>
<circle cx="118.9" cy="465.2" r="3.5" fill="#b4552c" stroke="#8a3716" stroke-width="0.8"/>
<rect x="117.7" y="464.8" width="2.4" height="0.7" fill="#e8c4b0" opacity="0.45"/>
<circle cx="112.3" cy="471.5" r="3.3" fill="#b4552c" stroke="#8a3716" stroke-width="0.8"/>
<rect x="111.1" y="471.1" width="2.3" height="0.7" fill="#e8c4b0" opacity="0.45"/>
<circle cx="123.4" cy="471.5" r="2.3" fill="#b4552c" stroke="#8a3716" stroke-width="0.8"/>
<circle cx="118.5" cy="475.1" r="2.5" fill="#b4552c" stroke="#8a3716" stroke-width="0.8"/>
<circle cx="108.2" cy="477.2" r="2.3" fill="#b4552c" stroke="#8a3716" stroke-width="0.8"/>
<circle cx="114.3" cy="478.4" r="2.3" fill="#b4552c" stroke="#8a3716" stroke-width="0.8"/>
<circle cx="104.1" cy="481.3" r="2.5" fill="#b4552c" stroke="#8a3716" stroke-width="0.8"/>
<circle cx="109.8" cy="482.6" r="2.3" fill="#b4552c" stroke="#8a3716" stroke-width="0.8"/>
<circle cx="115.6" cy="483.8" r="2.3" fill="#b4552c" stroke="#8a3716" stroke-width="0.8"/>
<circle cx="93" cy="485.4" r="2.3" fill="#b4552c" stroke="#8a3716" stroke-width="0.8"/>
<circle cx="98.9" cy="484.9" r="2.8" fill="#b4552c" stroke="#8a3716" stroke-width="0.8"/>
<circle cx="105.4" cy="487" r="2.3" fill="#b4552c" stroke="#8a3716" stroke-width="0.8"/>
<circle cx="110.7" cy="488.2" r="2.3" fill="#b4552c" stroke="#8a3716" stroke-width="0.8"/>
<circle cx="93" cy="491.1" r="2.3" fill="#b4552c" stroke="#8a3716" stroke-width="0.8"/>
<circle cx="99.2" cy="492" r="2.6" fill="#b4552c" stroke="#8a3716" stroke-width="0.8"/>
<circle cx="105.7" cy="492.8" r="2.3" fill="#b4552c" stroke="#8a3716" stroke-width="0.8"/>
<circle cx="68.9" cy="494.8" r="2.5" fill="#b4552c" stroke="#8a3716" stroke-width="0.8"/>
<circle cx="74.9" cy="493.6" r="2.6" fill="#b4552c" stroke="#8a3716" stroke-width="0.8"/>
<circle cx="80.3" cy="496.9" r="2.5" fill="#b4552c" stroke="#8a3716" stroke-width="0.8"/>
<circle cx="89" cy="495.7" r="2.5" fill="#b4552c" stroke="#8a3716" stroke-width="0.8"/>
<circle cx="95.1" cy="496.9" r="2.3" fill="#b4552c" stroke="#8a3716" stroke-width="0.8"/>
<circle cx="85.2" cy="500.2" r="2.5" fill="#b4552c" stroke="#8a3716" stroke-width="0.8"/>
<circle cx="91.3" cy="501" r="2.3" fill="#b4552c" stroke="#8a3716" stroke-width="0.8"/>
<circle cx="248.1" cy="392.3" r="2.55" fill="#e0e4e6" stroke="#5e6164" stroke-width="1.05"/>
<circle cx="252.3" cy="390.2" r="2.55" fill="#e0e4e6" stroke="#5e6164" stroke-width="1.05"/>
<circle cx="255.9" cy="391.0" r="2.55" fill="#e0e4e6" stroke="#5e6164" stroke-width="1.05"/>
<circle cx="260.0" cy="390.3" r="2.55" fill="#e0e4e6" stroke="#5e6164" stroke-width="1.05"/>
<circle cx="263.5" cy="391.1" r="2.55" fill="#e0e4e6" stroke="#5e6164" stroke-width="1.05"/>
<circle cx="267.9" cy="391.1" r="2.55" fill="#e0e4e6" stroke="#5e6164" stroke-width="1.05"/>
<circle cx="271.7" cy="390.2" r="2.55" fill="#e0e4e6" stroke="#5e6164" stroke-width="1.05"/>
<circle cx="277.7" cy="391.0" r="2.55" fill="#e0e4e6" stroke="#5e6164" stroke-width="1.05"/>
<circle cx="281.5" cy="391.8" r="2.55" fill="#e0e4e6" stroke="#5e6164" stroke-width="1.05"/>
<circle cx="244.6" cy="393.9" r="2.55" fill="#e0e4e6" stroke="#5e6164" stroke-width="1.05"/>
<circle cx="249.9" cy="395.2" r="2.55" fill="#e0e4e6" stroke="#5e6164" stroke-width="1.05"/>
<circle cx="253.9" cy="395.2" r="2.55" fill="#e0e4e6" stroke="#5e6164" stroke-width="1.05"/>
<circle cx="258.9" cy="394.6" r="2.55" fill="#e0e4e6" stroke="#5e6164" stroke-width="1.05"/>
<circle cx="262.7" cy="394.6" r="2.55" fill="#e0e4e6" stroke="#5e6164" stroke-width="1.05"/>
<circle cx="266.6" cy="395.3" r="2.55" fill="#e0e4e6" stroke="#5e6164" stroke-width="1.05"/>
<circle cx="270.3" cy="394.0" r="2.55" fill="#e0e4e6" stroke="#5e6164" stroke-width="1.05"/>
<circle cx="274.9" cy="395.5" r="2.55" fill="#e0e4e6" stroke="#5e6164" stroke-width="1.05"/>
<circle cx="279.5" cy="394.8" r="2.55" fill="#e0e4e6" stroke="#5e6164" stroke-width="1.05"/>
<circle cx="283.9" cy="394.2" r="2.55" fill="#e0e4e6" stroke="#5e6164" stroke-width="1.05"/>
<circle cx="237.7" cy="398.2" r="2.55" fill="#e0e4e6" stroke="#5e6164" stroke-width="1.05"/>
<circle cx="243.5" cy="397.9" r="2.55" fill="#e0e4e6" stroke="#5e6164" stroke-width="1.05"/>
<circle cx="246.1" cy="397.7" r="2.55" fill="#e0e4e6" stroke="#5e6164" stroke-width="1.05"/>
<circle cx="250.2" cy="398.1" r="2.55" fill="#e0e4e6" stroke="#5e6164" stroke-width="1.05"/>
<circle cx="255.8" cy="399.4" r="2.55" fill="#e0e4e6" stroke="#5e6164" stroke-width="1.05"/>
<circle cx="259.5" cy="398.4" r="2.55" fill="#e0e4e6" stroke="#5e6164" stroke-width="1.05"/>
<circle cx="263.7" cy="398.2" r="2.55" fill="#e0e4e6" stroke="#5e6164" stroke-width="1.05"/>
<circle cx="269.2" cy="398.8" r="2.55" fill="#e0e4e6" stroke="#5e6164" stroke-width="1.05"/>
<circle cx="272.3" cy="397.7" r="2.55" fill="#e0e4e6" stroke="#5e6164" stroke-width="1.05"/>
<circle cx="277.8" cy="399.2" r="2.55" fill="#e0e4e6" stroke="#5e6164" stroke-width="1.05"/>
<circle cx="282.2" cy="398.0" r="2.55" fill="#e0e4e6" stroke="#5e6164" stroke-width="1.05"/>
<circle cx="285.9" cy="399.7" r="2.55" fill="#e0e4e6" stroke="#5e6164" stroke-width="1.05"/>
<circle cx="236.5" cy="403.5" r="2.55" fill="#e0e4e6" stroke="#5e6164" stroke-width="1.05"/>
<circle cx="239.8" cy="403.5" r="2.55" fill="#e0e4e6" stroke="#5e6164" stroke-width="1.05"/>
<circle cx="243.8" cy="402.2" r="2.55" fill="#e0e4e6" stroke="#5e6164" stroke-width="1.05"/>
<circle cx="248.1" cy="403.1" r="2.55" fill="#e0e4e6" stroke="#5e6164" stroke-width="1.05"/>
<circle cx="253.9" cy="403.5" r="2.55" fill="#e0e4e6" stroke="#5e6164" stroke-width="1.05"/>
<circle cx="258.5" cy="403.5" r="2.55" fill="#e0e4e6" stroke="#5e6164" stroke-width="1.05"/>
<circle cx="262.2" cy="403.6" r="2.55" fill="#e0e4e6" stroke="#5e6164" stroke-width="1.05"/>
<circle cx="267.0" cy="402.0" r="2.55" fill="#e0e4e6" stroke="#5e6164" stroke-width="1.05"/>
<circle cx="271.8" cy="402.1" r="2.55" fill="#e0e4e6" stroke="#5e6164" stroke-width="1.05"/>
<circle cx="274.3" cy="401.4" r="2.55" fill="#e0e4e6" stroke="#5e6164" stroke-width="1.05"/>
<circle cx="279.2" cy="401.7" r="2.55" fill="#e0e4e6" stroke="#5e6164" stroke-width="1.05"/>
<circle cx="284.6" cy="403.5" r="2.55" fill="#e0e4e6" stroke="#5e6164" stroke-width="1.05"/>
<circle cx="233.5" cy="405.2" r="2.55" fill="#e0e4e6" stroke="#5e6164" stroke-width="1.05"/>
<circle cx="238.5" cy="405.3" r="2.55" fill="#e0e4e6" stroke="#5e6164" stroke-width="1.05"/>
<circle cx="242.9" cy="406.9" r="2.55" fill="#e0e4e6" stroke="#5e6164" stroke-width="1.05"/>
<circle cx="246.5" cy="405.9" r="2.55" fill="#e0e4e6" stroke="#5e6164" stroke-width="1.05"/>
<circle cx="252.3" cy="406.0" r="2.55" fill="#e0e4e6" stroke="#5e6164" stroke-width="1.05"/>
<circle cx="255.3" cy="407.1" r="2.55" fill="#e0e4e6" stroke="#5e6164" stroke-width="1.05"/>
<circle cx="260.7" cy="407.1" r="2.55" fill="#e0e4e6" stroke="#5e6164" stroke-width="1.05"/>
<circle cx="264.7" cy="405.9" r="2.55" fill="#e0e4e6" stroke="#5e6164" stroke-width="1.05"/>
<circle cx="269.0" cy="406.9" r="2.55" fill="#e0e4e6" stroke="#5e6164" stroke-width="1.05"/>
<circle cx="273.2" cy="405.5" r="2.55" fill="#e0e4e6" stroke="#5e6164" stroke-width="1.05"/>
<circle cx="276.7" cy="405.9" r="2.55" fill="#e0e4e6" stroke="#5e6164" stroke-width="1.05"/>
<circle cx="282.1" cy="406.3" r="2.55" fill="#e0e4e6" stroke="#5e6164" stroke-width="1.05"/>
<circle cx="232.1" cy="410.6" r="2.55" fill="#e0e4e6" stroke="#5e6164" stroke-width="1.05"/>
<circle cx="235.4" cy="410.2" r="2.55" fill="#e0e4e6" stroke="#5e6164" stroke-width="1.05"/>
<circle cx="240.2" cy="410.0" r="2.55" fill="#e0e4e6" stroke="#5e6164" stroke-width="1.05"/>
<circle cx="245.7" cy="409.2" r="2.55" fill="#e0e4e6" stroke="#5e6164" stroke-width="1.05"/>
<circle cx="250.3" cy="408.8" r="2.55" fill="#e0e4e6" stroke="#5e6164" stroke-width="1.05"/>
<circle cx="253.6" cy="409.9" r="2.55" fill="#e0e4e6" stroke="#5e6164" stroke-width="1.05"/>
<circle cx="257.2" cy="410.0" r="2.55" fill="#e0e4e6" stroke="#5e6164" stroke-width="1.05"/>
<circle cx="262.0" cy="409.7" r="2.55" fill="#e0e4e6" stroke="#5e6164" stroke-width="1.05"/>
<circle cx="266.9" cy="408.7" r="2.55" fill="#e0e4e6" stroke="#5e6164" stroke-width="1.05"/>
<circle cx="270.4" cy="410.5" r="2.55" fill="#e0e4e6" stroke="#5e6164" stroke-width="1.05"/>
<circle cx="274.1" cy="410.7" r="2.55" fill="#e0e4e6" stroke="#5e6164" stroke-width="1.05"/>
<circle cx="278.6" cy="410.3" r="2.55" fill="#e0e4e6" stroke="#5e6164" stroke-width="1.05"/>
<circle cx="233.4" cy="413.4" r="2.55" fill="#e0e4e6" stroke="#5e6164" stroke-width="1.05"/>
<circle cx="238.3" cy="412.6" r="2.55" fill="#e0e4e6" stroke="#5e6164" stroke-width="1.05"/>
<circle cx="243.2" cy="413.5" r="2.55" fill="#e0e4e6" stroke="#5e6164" stroke-width="1.05"/>
<circle cx="247.5" cy="413.7" r="2.55" fill="#e0e4e6" stroke="#5e6164" stroke-width="1.05"/>
<circle cx="251.5" cy="413.6" r="2.55" fill="#e0e4e6" stroke="#5e6164" stroke-width="1.05"/>
<circle cx="255.2" cy="414.5" r="2.55" fill="#e0e4e6" stroke="#5e6164" stroke-width="1.05"/>
<circle cx="259.0" cy="414.5" r="2.55" fill="#e0e4e6" stroke="#5e6164" stroke-width="1.05"/>
<circle cx="265.1" cy="413.6" r="2.55" fill="#e0e4e6" stroke="#5e6164" stroke-width="1.05"/>
<circle cx="269.2" cy="414.0" r="2.55" fill="#e0e4e6" stroke="#5e6164" stroke-width="1.05"/>
<circle cx="273.1" cy="413.1" r="2.55" fill="#e0e4e6" stroke="#5e6164" stroke-width="1.05"/>
<circle cx="276.7" cy="413.2" r="2.55" fill="#e0e4e6" stroke="#5e6164" stroke-width="1.05"/>
<circle cx="257.3" cy="418.4" r="2.55" fill="#e0e4e6" stroke="#5e6164" stroke-width="1.05"/>
<circle cx="261.7" cy="417.0" r="2.55" fill="#e0e4e6" stroke="#5e6164" stroke-width="1.05"/>
<circle cx="164.5" cy="344.0" r="2.55" fill="#e0e4e6" stroke="#5e6164" stroke-width="1.05"/>
<circle cx="181.2" cy="372.2" r="2.55" fill="#e0e4e6" stroke="#5e6164" stroke-width="1.05"/>
<circle cx="184.5" cy="374.0" r="2.55" fill="#e0e4e6" stroke="#5e6164" stroke-width="1.05"/>
<circle cx="192.7" cy="378.0" r="2.55" fill="#e0e4e6" stroke="#5e6164" stroke-width="1.05"/>
<circle cx="195.2" cy="380.0" r="2.55" fill="#e0e4e6" stroke="#5e6164" stroke-width="1.05"/>
<circle cx="198.4" cy="383.4" r="2.55" fill="#e0e4e6" stroke="#5e6164" stroke-width="1.05"/>
<circle cx="204.2" cy="388.3" r="2.55" fill="#e0e4e6" stroke="#5e6164" stroke-width="1.05"/>
<circle cx="209.4" cy="389.6" r="2.55" fill="#e0e4e6" stroke="#5e6164" stroke-width="1.05"/>
<circle cx="212.0" cy="377.1" r="2.55" fill="#e0e4e6" stroke="#5e6164" stroke-width="1.05"/>
<circle cx="225.5" cy="377.6" r="2.55" fill="#e0e4e6" stroke="#5e6164" stroke-width="1.05"/>
<circle cx="229.8" cy="378.7" r="2.55" fill="#e0e4e6" stroke="#5e6164" stroke-width="1.05"/>
<circle cx="225.2" cy="350.1" r="2.55" fill="#e0e4e6" stroke="#5e6164" stroke-width="1.05"/>
<circle cx="227.3" cy="342.4" r="2.55" fill="#e0e4e6" stroke="#5e6164" stroke-width="1.05"/>
<circle cx="233.5" cy="339.7" r="2.55" fill="#e0e4e6" stroke="#5e6164" stroke-width="1.05"/>
<circle cx="225.2" cy="349.8" r="2.55" fill="#e0e4e6" stroke="#5e6164" stroke-width="1.05"/>
<circle cx="247.7" cy="363.2" r="2.55" fill="#e0e4e6" stroke="#5e6164" stroke-width="1.05"/>
<circle cx="250.3" cy="363.7" r="2.55" fill="#e0e4e6" stroke="#5e6164" stroke-width="1.05"/>
<circle cx="258.2" cy="367.3" r="2.55" fill="#e0e4e6" stroke="#5e6164" stroke-width="1.05"/>
<circle cx="239.0" cy="370.9" r="2.55" fill="#e0e4e6" stroke="#5e6164" stroke-width="1.05"/>
<circle cx="245.6" cy="376.0" r="2.55" fill="#e0e4e6" stroke="#5e6164" stroke-width="1.05"/>
<circle cx="262.8" cy="376.0" r="2.55" fill="#e0e4e6" stroke="#5e6164" stroke-width="1.05"/>
<circle cx="258.2" cy="382.0" r="2.55" fill="#e0e4e6" stroke="#5e6164" stroke-width="1.05"/>
<circle cx="230.8" cy="380.4" r="2.55" fill="#e0e4e6" stroke="#5e6164" stroke-width="1.05"/>
<circle cx="246.4" cy="382.5" r="2.55" fill="#e0e4e6" stroke="#5e6164" stroke-width="1.05"/>
<circle cx="275.9" cy="378.8" r="2.55" fill="#e0e4e6" stroke="#5e6164" stroke-width="1.05"/>
<circle cx="283.3" cy="380.0" r="2.55" fill="#e0e4e6" stroke="#5e6164" stroke-width="1.05"/>
<circle cx="302.1" cy="384.2" r="2.55" fill="#e0e4e6" stroke="#5e6164" stroke-width="1.05"/>
<circle cx="306.7" cy="385.7" r="2.55" fill="#e0e4e6" stroke="#5e6164" stroke-width="1.05"/>
<circle cx="272.6" cy="389.8" r="2.55" fill="#e0e4e6" stroke="#5e6164" stroke-width="1.05"/>
<circle cx="277.5" cy="390.2" r="2.55" fill="#e0e4e6" stroke="#5e6164" stroke-width="1.05"/>
<circle cx="283.3" cy="390.7" r="2.55" fill="#e0e4e6" stroke="#5e6164" stroke-width="1.05"/>
<circle cx="283.6" cy="391.2" r="2.55" fill="#e0e4e6" stroke="#5e6164" stroke-width="1.05"/>
<circle cx="281.4" cy="396.5" r="2.55" fill="#e0e4e6" stroke="#5e6164" stroke-width="1.05"/>
<circle cx="288.6" cy="404.4" r="2.55" fill="#e0e4e6" stroke="#5e6164" stroke-width="1.05"/>
<circle cx="282.9" cy="402.3" r="2.55" fill="#e0e4e6" stroke="#5e6164" stroke-width="1.05"/>
<circle cx="329.5" cy="395.1" r="2.55" fill="#e0e4e6" stroke="#5e6164" stroke-width="1.05"/>
<circle cx="202.8" cy="409.1" r="2.55" fill="#e0e4e6" stroke="#5e6164" stroke-width="1.05"/>
<circle cx="223.0" cy="413.2" r="2.55" fill="#e0e4e6" stroke="#5e6164" stroke-width="1.05"/>
<circle cx="212.2" cy="443.6" r="2.55" fill="#e0e4e6" stroke="#5e6164" stroke-width="1.05"/>
<circle cx="217.1" cy="446.9" r="2.55" fill="#e0e4e6" stroke="#5e6164" stroke-width="1.05"/>
<circle cx="234.7" cy="397.5" r="2.55" fill="#e0e4e6" stroke="#5e6164" stroke-width="1.05"/>
<circle cx="237.8" cy="402.4" r="2.55" fill="#e0e4e6" stroke="#5e6164" stroke-width="1.05"/>
<circle cx="232.3" cy="407.3" r="2.55" fill="#e0e4e6" stroke="#5e6164" stroke-width="1.05"/>
<circle cx="236.6" cy="411.0" r="2.55" fill="#e0e4e6" stroke="#5e6164" stroke-width="1.05"/>
<circle cx="234.7" cy="415.9" r="2.55" fill="#e0e4e6" stroke="#5e6164" stroke-width="1.05"/>
<circle cx="230.4" cy="414.0" r="2.55" fill="#e0e4e6" stroke="#5e6164" stroke-width="1.05"/>
<circle cx="57.0" cy="403.3" r="2.55" fill="#e0e4e6" stroke="#5e6164" stroke-width="1.05"/>
<circle cx="261.5" cy="504.8" r="2.55" fill="#e0e4e6" stroke="#5e6164" stroke-width="1.05"/>
<circle cx="321.0" cy="325.3" r="2.55" fill="#e0e4e6" stroke="#5e6164" stroke-width="1.05"/>
<circle cx="324.5" cy="324.3" r="2.55" fill="#e0e4e6" stroke="#5e6164" stroke-width="1.05"/>
<circle cx="327.9" cy="323.2" r="2.55" fill="#e0e4e6" stroke="#5e6164" stroke-width="1.05"/>
<circle cx="259.3" cy="373.1" r="2.9" fill="#c8dce4" stroke="#5b5d5f" stroke-width="1.0"/>
<circle cx="203.0" cy="290.2" r="2.5" fill="#2f5590" stroke="#14284a" stroke-width="1.0"/>
<circle cx="111.9" cy="353.6" r="2.2" fill="#4a70b0" stroke="#1c3a6e" stroke-width="1.0"/>
<circle cx="114.0" cy="354.6" r="2.2" fill="#4a70b0" stroke="#1c3a6e" stroke-width="1.0"/>
<circle cx="115.9" cy="355.6" r="2.2" fill="#4a70b0" stroke="#1c3a6e" stroke-width="1.0"/>
<circle cx="219.4" cy="321.1" r="2.4" fill="#cf3e2c" stroke="#7e1a0e" stroke-width="1.0"/>
<circle cx="221.1" cy="322.8" r="2.4" fill="#cf3e2c" stroke="#7e1a0e" stroke-width="1.0"/>
<circle cx="221.5" cy="325.7" r="2.4" fill="#cf3e2c" stroke="#7e1a0e" stroke-width="1.0"/>
<circle cx="223.5" cy="326.9" r="2.4" fill="#cf3e2c" stroke="#7e1a0e" stroke-width="1.0"/>
<circle cx="226.0" cy="327.3" r="2.4" fill="#cf3e2c" stroke="#7e1a0e" stroke-width="1.0"/>
<circle cx="224.8" cy="331.4" r="2.4" fill="#cf3e2c" stroke="#7e1a0e" stroke-width="1.0"/>
<circle cx="225.6" cy="335.1" r="2.4" fill="#cf3e2c" stroke="#7e1a0e" stroke-width="1.0"/>
<circle cx="226.8" cy="336.7" r="2.4" fill="#cf3e2c" stroke="#7e1a0e" stroke-width="1.0"/>
<circle cx="233.0" cy="326.9" r="2.4" fill="#cf3e2c" stroke="#7e1a0e" stroke-width="1.0"/>
<circle cx="235.4" cy="325.7" r="2.4" fill="#cf3e2c" stroke="#7e1a0e" stroke-width="1.0"/>
<circle cx="237.9" cy="327.3" r="2.4" fill="#cf3e2c" stroke="#7e1a0e" stroke-width="1.0"/>
<circle cx="235.4" cy="333.4" r="2.4" fill="#cf3e2c" stroke="#7e1a0e" stroke-width="1.0"/>
<circle cx="231.7" cy="338.0" r="2.4" fill="#cf3e2c" stroke="#7e1a0e" stroke-width="1.0"/>
<circle cx="227.6" cy="342.0" r="2.55" fill="#e0e4e6" stroke="#5e6164" stroke-width="1.05"/>
<circle cx="233.8" cy="339.6" r="2.55" fill="#e0e4e6" stroke="#5e6164" stroke-width="1.05"/>
<circle cx="259.9" cy="378.0" r="2.4" fill="#8e2a22" stroke="#4a1410" stroke-width="1.0"/>
<circle cx="262.0" cy="387.6" r="2.4" fill="#8e2a22" stroke="#4a1410" stroke-width="1.0"/>
<circle cx="292.2" cy="400.4" r="2.4" fill="#8e2a22" stroke="#4a1410" stroke-width="1.0"/>
<circle cx="332.0" cy="321.9" r="2.35" fill="#6470b2" stroke="#30356e" stroke-width="1.0"/>
<circle cx="334.6" cy="319.3" r="2.35" fill="#6470b2" stroke="#30356e" stroke-width="1.0"/>
<circle cx="337.2" cy="320.4" r="2.35" fill="#6470b2" stroke="#30356e" stroke-width="1.0"/>
<circle cx="340.2" cy="317.8" r="2.35" fill="#6470b2" stroke="#30356e" stroke-width="1.0"/>
<circle cx="342.8" cy="316.3" r="2.35" fill="#6470b2" stroke="#30356e" stroke-width="1.0"/>
<circle cx="344.8" cy="318.3" r="2.35" fill="#6470b2" stroke="#30356e" stroke-width="1.0"/>
<circle cx="345.3" cy="314.7" r="2.35" fill="#6470b2" stroke="#30356e" stroke-width="1.0"/>
<circle cx="347.9" cy="313.2" r="2.35" fill="#6470b2" stroke="#30356e" stroke-width="1.0"/>
<circle cx="347.4" cy="316.3" r="2.35" fill="#6470b2" stroke="#30356e" stroke-width="1.0"/>
<circle cx="350.0" cy="320.4" r="2.35" fill="#6470b2" stroke="#30356e" stroke-width="1.0"/>
<circle cx="419.0" cy="405.9" r="2.2" fill="#8a3a20" stroke="#4a1a0a" stroke-width="1.0"/>
<circle cx="420.8" cy="406.9" r="2.2" fill="#8a3a20" stroke="#4a1a0a" stroke-width="1.0"/>
<circle cx="422.4" cy="408.0" r="2.2" fill="#8a3a20" stroke="#4a1a0a" stroke-width="1.0"/>
<circle cx="445.0" cy="411.0" r="2.2" fill="#6a5a8a" stroke="#3a2a4a" stroke-width="0.9"/>
<circle cx="444.8" cy="411.6" r="2.3" fill="#8e3e22" stroke="#4a1a0a" stroke-width="1.0"/>
<circle cx="442.8" cy="414.8" r="2.3" fill="#8e3e22" stroke="#4a1a0a" stroke-width="1.0"/>
<circle cx="445.7" cy="415.2" r="2.3" fill="#8e3e22" stroke="#4a1a0a" stroke-width="1.0"/>
<circle cx="448.1" cy="414.0" r="2.3" fill="#8e3e22" stroke="#4a1a0a" stroke-width="1.0"/>
<circle cx="449.8" cy="416.5" r="2.3" fill="#8e3e22" stroke="#4a1a0a" stroke-width="1.0"/>
<circle cx="457.1" cy="411.6" r="2.3" fill="#8e3e22" stroke="#4a1a0a" stroke-width="1.0"/>
<circle cx="459.6" cy="410.7" r="2.3" fill="#8e3e22" stroke="#4a1a0a" stroke-width="1.0"/>
<circle cx="461.2" cy="412.4" r="2.3" fill="#8e3e22" stroke="#4a1a0a" stroke-width="1.0"/>
<circle cx="458.8" cy="413.2" r="2.3" fill="#8e3e22" stroke="#4a1a0a" stroke-width="1.0"/>
<circle cx="459.6" cy="422.6" r="2.3" fill="#8e3e22" stroke="#4a1a0a" stroke-width="1.0"/>
<circle cx="452.6" cy="417.3" r="2.4" fill="#d8702c" stroke="#8a3a10" stroke-width="0.9"/>
<circle cx="455.1" cy="416.9" r="2.4" fill="#d8702c" stroke="#8a3a10" stroke-width="0.9"/>
<circle cx="453.9" cy="419.8" r="2.4" fill="#d8702c" stroke="#8a3a10" stroke-width="0.9"/>
<circle cx="456.7" cy="419.3" r="2.4" fill="#d8702c" stroke="#8a3a10" stroke-width="0.9"/>
<circle cx="457.1" cy="421.4" r="2.4" fill="#d8702c" stroke="#8a3a10" stroke-width="0.9"/>
<circle cx="463.3" cy="425.1" r="2.2" fill="#c6df78" stroke="#6a8a3a" stroke-width="1.0"/>
<circle cx="465.7" cy="427.1" r="2.2" fill="#c6df78" stroke="#6a8a3a" stroke-width="1.0"/>
<rect x="36.8" y="5.3" width="449.9" height="234.89999999999998" fill="none" stroke="#8c8c8c" stroke-width="1.3"/>
<line x1="56.5" y1="240.2" x2="56.5" y2="243.39999999999998" stroke="#333" stroke-width="1"/>
<text x="56.5" y="253.79999999999998" text-anchor="middle" class="tk">-5</text>
<line x1="138.5" y1="240.2" x2="138.5" y2="243.39999999999998" stroke="#333" stroke-width="1"/>
<text x="138.5" y="253.79999999999998" text-anchor="middle" class="tk">0</text>
<line x1="220.4" y1="240.2" x2="220.4" y2="243.39999999999998" stroke="#333" stroke-width="1"/>
<text x="220.4" y="253.79999999999998" text-anchor="middle" class="tk">5</text>
<line x1="302.4" y1="240.2" x2="302.4" y2="243.39999999999998" stroke="#333" stroke-width="1"/>
<text x="302.4" y="253.79999999999998" text-anchor="middle" class="tk">10</text>
<line x1="384.4" y1="240.2" x2="384.4" y2="243.39999999999998" stroke="#333" stroke-width="1"/>
<text x="384.4" y="253.79999999999998" text-anchor="middle" class="tk">15</text>
<line x1="466.3" y1="240.2" x2="466.3" y2="243.39999999999998" stroke="#333" stroke-width="1"/>
<text x="466.3" y="253.79999999999998" text-anchor="middle" class="tk">20</text>
<line x1="33.599999999999994" y1="216.3" x2="36.8" y2="216.3" stroke="#333" stroke-width="1"/>
<text x="32.4" y="220.2" text-anchor="end" class="tk">-10</text>
<line x1="33.599999999999994" y1="149.3" x2="36.8" y2="149.3" stroke="#333" stroke-width="1"/>
<text x="32.4" y="153.2" text-anchor="end" class="tk">0</text>
<line x1="33.599999999999994" y1="82.3" x2="36.8" y2="82.3" stroke="#333" stroke-width="1"/>
<text x="32.4" y="86.2" text-anchor="end" class="tk">10</text>
<line x1="33.599999999999994" y1="15.3" x2="36.8" y2="15.3" stroke="#333" stroke-width="1"/>
<text x="32.4" y="19.2" text-anchor="end" class="tk">20</text>
<rect x="36.8" y="279.8" width="449.9" height="235.2" fill="none" stroke="#8c8c8c" stroke-width="1.3"/>
<line x1="55.9" y1="515.0" x2="55.9" y2="518.2" stroke="#333" stroke-width="1"/>
<text x="55.9" y="528.6" text-anchor="middle" class="tk">-10</text>
<line x1="162.5" y1="515.0" x2="162.5" y2="518.2" stroke="#333" stroke-width="1"/>
<text x="162.5" y="528.6" text-anchor="middle" class="tk">0</text>
<line x1="269.1" y1="515.0" x2="269.1" y2="518.2" stroke="#333" stroke-width="1"/>
<text x="269.1" y="528.6" text-anchor="middle" class="tk">10</text>
<line x1="375.7" y1="515.0" x2="375.7" y2="518.2" stroke="#333" stroke-width="1"/>
<text x="375.7" y="528.6" text-anchor="middle" class="tk">20</text>
<line x1="482.3" y1="515.0" x2="482.3" y2="518.2" stroke="#333" stroke-width="1"/>
<text x="482.3" y="528.6" text-anchor="middle" class="tk">30</text>
<line x1="33.599999999999994" y1="487.2" x2="36.8" y2="487.2" stroke="#333" stroke-width="1"/>
<text x="32.4" y="491.1" text-anchor="end" class="tk">-10</text>
<line x1="33.599999999999994" y1="425.4" x2="36.8" y2="425.4" stroke="#333" stroke-width="1"/>
<text x="32.4" y="429.3" text-anchor="end" class="tk">0</text>
<line x1="33.599999999999994" y1="363.6" x2="36.8" y2="363.6" stroke="#333" stroke-width="1"/>
<text x="32.4" y="367.5" text-anchor="end" class="tk">10</text>
<line x1="33.599999999999994" y1="301.8" x2="36.8" y2="301.8" stroke="#333" stroke-width="1"/>
<text x="32.4" y="305.7" text-anchor="end" class="tk">20</text>
</svg>
</body></html>
